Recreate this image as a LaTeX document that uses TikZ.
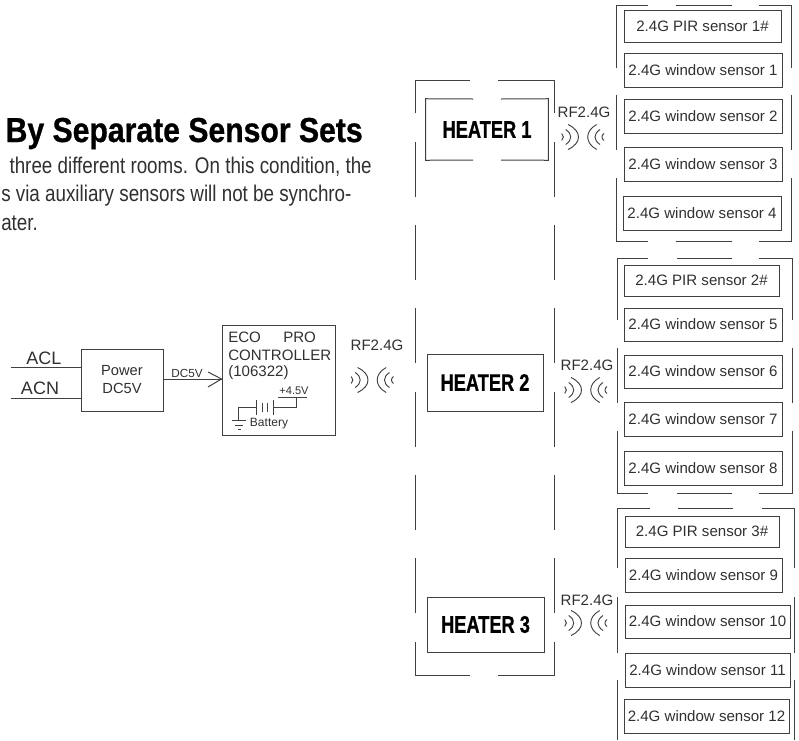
\documentclass[tikz,border=0pt]{standalone}
\usepackage{fontspec}
\setmainfont{Liberation Sans}
\newfontfamily\condb[FakeStretch=0.87,FakeBold=0.8]{Liberation Sans Bold}
\newfontfamily\heatb[FakeStretch=0.76,FakeBold=0.8]{Liberation Sans Bold}
\newfontfamily\condr[FakeStretch=0.83]{Liberation Sans}
\definecolor{ln}{HTML}{404040}
\definecolor{tx}{HTML}{303030}
\tikzset{
  ln/.style={draw=ln,line width=0.75pt},
  boxnode/.style={draw=ln,line width=0.75pt,inner sep=0pt,align=center,text=tx},
  sensor/.style={boxnode,font=\fontsize{11.3}{13}\selectfont},
  lab/.style={inner sep=0pt,text=tx,font=\fontsize{11.3}{13}\selectfont},
  heater/.style={inner sep=0pt,text=black,font=\heatb\fontsize{18}{20}\selectfont},
  wave/.style={draw=ln,line width=0.7pt}
}
\newcommand{\rect}[6]{\node[#1,minimum width={(#4-#2)*0.75pt},minimum height={(#5-#3)*0.75pt}] (#6) at ({(#2+#4)/2},{(#3+#5)/2})}
\newcommand{\rfwaves}[2]{\begin{scope}[shift={(#1,#2)}]
  \draw[wave] (-12,-12.5) .. controls (2,-6) and (2,6) .. (-12,12.5);
  \draw[wave] (-14.3,-7.5) .. controls (-7.6,-3) and (-7.6,3) .. (-14.3,7.5);
  \draw[wave] (-18.3,-3.5) .. controls (-16.1,-1.5) and (-16.1,1.5) .. (-18.3,3.5);
  \draw[wave] (16.7,-12.5) .. controls (4.7,-6) and (4.7,6) .. (16.7,12.5);
  \draw[wave] (20,-7.5) .. controls (13.3,-3) and (13.3,3) .. (20,7.5);
  \draw[wave] (24,-3.5) .. controls (21.3,-1.5) and (21.3,1.5) .. (24,3.5);
\end{scope}}
\begin{document}
\begin{tikzpicture}[x=0.75pt,y=-0.75pt]
\useasboundingbox (0,0) rectangle (799,740);
% heading text
\node[anchor=base east,inner sep=0pt,font=\condb\fontsize{26}{30}\selectfont] (title) at (363,142) {By Separate Sensor Sets};
\node[anchor=base east,inner sep=0pt,text=tx,font=\condr\fontsize{17}{20}\selectfont] (l1) at (372,173) {three different rooms. On this condition, the};
\node[anchor=base west,inner sep=0pt,text=tx,font=\condr\fontsize{17}{20}\selectfont] (l2) at (1,201) {s via auxiliary sensors will not be synchro-};
\node[anchor=base west,inner sep=0pt,text=tx,font=\condr\fontsize{17}{20}\selectfont] (l3) at (1,230) {ater.};
% power section
\rect{boxnode,font=\fontsize{11}{13.5}\selectfont}{81}{349}{163}{411}{power} {Power\\DC5V};
\node[lab,font=\fontsize{13.5}{15}\selectfont] (acl) at (44,358) {ACL};
\node[lab,font=\fontsize{13.5}{15}\selectfont] (acn) at (40,388) {ACN};
\coordinate (aclin) at (11,367.5);
\coordinate (acnin) at (11,398);
\draw[ln] (aclin) -- (aclin-|power.west);
\draw[ln] (acnin) -- (acnin-|power.west);
\rect{boxnode}{222}{325}{335}{435}{ctrl} {};
\draw[ln] (power.east|-0,379) -- (ctrl.west|-0,379) coordinate (tip);
\draw[ln] (208,372) -- (tip) -- (208,387);
\node[lab,font=\fontsize{8.8}{10}\selectfont] (dc) at (187,373) {DC5V};
\node[lab,anchor=west] (eco) at (228,337) {ECO};
\node[lab,anchor=west] (pro) at (283,337) {PRO};
\node[lab,anchor=west] (con) at (228,355) {CONTROLLER};
\node[lab,anchor=west] (num) at (228,373) {(106322)};
\node[lab,font=\fontsize{8.3}{9}\selectfont] (v45) at (294,391) {+4.5V};
\node[lab,font=\fontsize{9}{10}\selectfont] (bat) at (269,424) {Battery};
\draw[ln] (278,397) -- (307,397) (296,397) -- (296,407) -- (273,407)
  (273,400) -- (273,415) (267,403) -- (267,412) (262,403) -- (262,412) (256,400) -- (256,415)
  (256,407) -- (238,407) -- (238,420)
  (232,420) -- (246,420) (235,425) -- (243,425) (238,429.5) -- (241,429.5);
\node[lab] (rf0) at (377,345) {RF2.4G};
\rfwaves{369.5}{380}
% heater frame
\coordinate (ftl) at (415,80); \coordinate (ftr) at (554,80);
\coordinate (fbl) at (415,675); \coordinate (fbr) at (554,675);
\draw[ln] (415,113) -- (ftl) -- (470,80) (498,80) -- (ftr) -- (554,113);
\draw[ln] (415,642) -- (fbl) -- (470,675) (498,675) -- (fbr) -- (554,642);
\draw[ln] (415,142) -- (415,197) (415,225) -- (415,280) (415,308) -- (415,363) (415,392) -- (415,447) (415,475) -- (415,530) (415,558) -- (415,613);
\draw[ln] (554,142) -- (554,197) (554,225) -- (554,280) (554,308) -- (554,363) (554,392) -- (554,447) (554,475) -- (554,530) (554,558) -- (554,613);
% heater 1 (top and bottom edges are broken)
\rect{heater}{426}{99}{548}{160}{h1} {HEATER 1};
\draw[ln] (473,99) -- (h1.north west) -- (h1.south west) -- (473,160);
\draw[ln] (501,99) -- (h1.north east) -- (h1.south east) -- (501,160);
\rect{heater,boxnode,text=black}{427}{354}{543}{411}{h2} {HEATER 2};
\rect{heater,boxnode,text=black}{427}{597}{544}{652}{h3} {HEATER 3};
\node[lab] (rf1) at (584,112) {RF2.4G};
\rfwaves{580}{137}
\node[lab] (rf2) at (587,365) {RF2.4G};
\rfwaves{583}{390}
\node[lab] (rf3) at (587,600) {RF2.4G};
\rfwaves{583}{623}
% sensor set 1
\draw[ln] (616,68) -- (616,5) -- (648,5) (676,5) -- (732,5) (759,5) -- (791,5) -- (791,68);
\draw[ln] (616,95) -- (616,150) (791,95) -- (791,150);
\draw[ln] (616,178) -- (616,241) -- (648,241) (676,241) -- (732,241) (759,241) -- (791,241) -- (791,178);
\rect{sensor}{624}{10}{781}{42}{s1p} {2.4G PIR sensor 1\#};
\rect{sensor}{624}{53}{782}{87}{s1} {2.4G window sensor 1};
\rect{sensor}{624}{99}{782}{133}{s2} {2.4G window sensor 2};
\rect{sensor}{624}{147}{782}{181}{s3} {2.4G window sensor 3};
\rect{sensor}{623}{196}{781}{230}{s4} {2.4G window sensor 4};
% sensor set 2
\draw[ln] (617,320) -- (617,258) -- (648,258) (677,258) -- (732,258) (759,258) -- (792,258) -- (792,320);
\draw[ln] (617,348) -- (617,403) (792,348) -- (792,403);
\draw[ln] (617,431) -- (617,493) -- (648,493) (677,493) -- (732,493) (759,493) -- (792,493) -- (792,431);
\rect{sensor}{624}{265}{779}{296}{s2p} {2.4G PIR sensor 2\#};
\rect{sensor}{624}{308}{782}{341}{s5} {2.4G window sensor 5};
\rect{sensor}{624}{355}{782}{388}{s6} {2.4G window sensor 6};
\rect{sensor}{624}{402}{782}{436}{s7} {2.4G window sensor 7};
\rect{sensor}{624}{451}{782}{485}{s8} {2.4G window sensor 8};
% sensor set 3
\draw[ln] (617,568) -- (617,508) -- (650,508) (678,508) -- (733,508) (762,508) -- (794,508) -- (794,568);
\draw[ln] (617,597) -- (617,653) (794,597) -- (794,653);
\draw[ln] (617,680) -- (617,740) (794,680) -- (794,740);
\rect{sensor}{625}{516}{779}{547}{s3p} {2.4G PIR sensor 3\#};
\rect{sensor}{625}{558}{782}{592}{s9} {2.4G window sensor 9};
\rect{sensor}{625}{605}{790}{638}{s10} {2.4G window sensor 10};
\rect{sensor}{625}{653}{790}{687}{s11} {2.4G window sensor 11};
\rect{sensor}{624}{699}{789}{733}{s12} {2.4G window sensor 12};
\end{tikzpicture}
\end{document}
